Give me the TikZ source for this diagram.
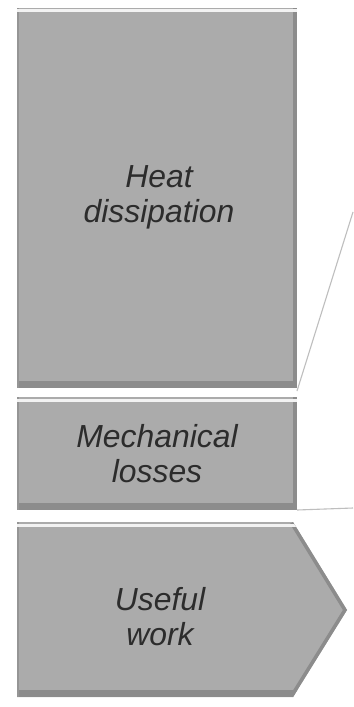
\documentclass[tikz,border=0pt]{standalone}
\usepackage{fontspec}
\setmainfont{Liberation Sans}
\definecolor{boxfill}{HTML}{ABABAB}
\definecolor{boxshade}{HTML}{8C8C8C}
\definecolor{boxlight}{HTML}{F2F2F2}
\definecolor{labeltext}{HTML}{2C2C2C}
\definecolor{leader}{HTML}{BEBEBE}
\tikzset{
  panel/.style={draw=none, fill=boxfill, inner sep=0pt, outer sep=0pt,
    path picture={
      \fill[boxshade] (path picture bounding box.south west)
        rectangle ([yshift=7bp]path picture bounding box.south east);
      \fill[boxshade] ([xshift=-4bp]path picture bounding box.north east)
        rectangle (path picture bounding box.south east);
      \fill[boxshade!70!boxfill] (path picture bounding box.north west)
        rectangle ([xshift=2bp]path picture bounding box.south west);
      \fill[boxlight] ([yshift=-1.5bp]path picture bounding box.north west)
        rectangle ([yshift=-4.5bp]path picture bounding box.north east);
    }},
  caption/.style={text=labeltext, align=center, inner sep=0pt,
    font=\itshape\fontsize{32}{35}\selectfont},
  leaderline/.style={draw=leader, line width=1.1bp}
}
\begin{document}
\begin{tikzpicture}[x=1bp, y=-1bp]
  \useasboundingbox (0,0) rectangle (353,707);
  \fill[white] (0,0) rectangle (353,707);

  % upper block
  \node[panel, minimum width=280bp, minimum height=380bp] (heat) at (157,198) {};
  \node[caption] (heattext) at (159,197) {Heat\\dissipation};

  % middle block
  \node[panel, minimum width=280bp, minimum height=113bp] (mech) at (157,453.5) {};
  \node[caption] (mechtext) at (157,454) {Mechanical\\losses};

  % lower arrow-shaped block
  \coordinate (w1) at (17,522);
  \coordinate (w2) at (293,522);
  \coordinate (w3) at (347,610);
  \coordinate (w4) at (293,697);
  \coordinate (w5) at (17,697);
  \fill[boxfill] (w1) -- (w2) -- (w3) -- (w4) -- (w5) -- cycle;
  \begin{scope}
    \clip (w1) -- (w2) -- (w3) -- (w4) -- (w5) -- cycle;
    \fill[boxshade] (17,690) rectangle (350,697);
    \draw[boxshade, line width=7bp] (w2) -- (w3) -- (w4);
    \fill[boxshade!70!boxfill] (17,522) rectangle (19,697);
    \fill[boxlight] (17,523.5) rectangle (300,526.5);
  \end{scope}
  \node[caption] (worktext) at (160,617) {Useful\\work};

  % leader lines running off to the right
  \coordinate (upperend) at (353,212);
  \coordinate (lowerend) at (353,508);
  \draw[leaderline] ([yshift=-3bp]heat.south east) -- (upperend);
  \draw[leaderline] (mech.south east) -- (lowerend);
\end{tikzpicture}
\end{document}
